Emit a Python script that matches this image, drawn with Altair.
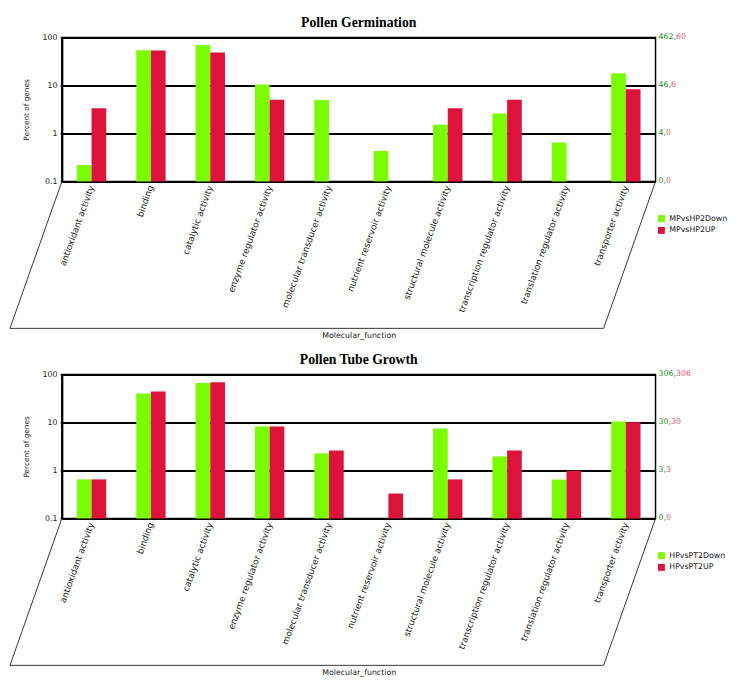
import altair as alt
import pandas as pd

categories = [
    "antioxidant activity", "binding", "catalytic activity",
    "enzyme regulator activity", "molecular transducer activity",
    "nutrient reservoir activity", "structural molecule activity",
    "transcription regulator activity", "translation regulator activity",
    "transporter activity",
]

# Pollen Germination (percent of genes)
pg_series = ["MPvsHP2Down", "MPvsHP2UP"]
pg_down = [0.22, 54.1, 69.9, 10.4, 4.98, 0.43, 1.52, 2.6, 0.65, 17.97]
pg_up = [3.33, 53.3, 48.3, 5.0, None, None, 3.33, 5.0, None, 8.33]
right_values = [100, 10, 1, 0.1]
pg_right_down = ["462,", "46,", "4,", "0,"]
pg_right_up = ["60", "6", "0", "0"]

# Pollen Tube Growth (percent of genes)
pt_series = ["HPvsPT2Down", "HPvsPT2UP"]
pt_down = [0.65, 39.9, 66.0, 8.17, 2.29, None, 7.5, 1.96, 0.65, 10.46]
pt_up = [0.65, 44.1, 68.95, 8.17, 2.61, 0.33, 0.65, 2.61, 0.98, 10.1]
pt_right_down = ["306,", "30,", "3,", "0,"]
pt_right_up = ["306", "30", "3", "0"]

W, H = 606, 147
D, SK = 150, 53
BW = 15
FONT = "DejaVu Sans"
GREEN, RED = "#7CFC00", "#DC143C"


def panel(title, series, down, up, rdown, rup):
    rows = []
    for c, d, u in zip(categories, down, up):
        if d is not None:
            rows.append({"category": c, "series": series[0], "value": d})
        if u is not None:
            rows.append({"category": c, "series": series[1], "value": u})
    df = pd.DataFrame(rows)
    yscale = alt.Scale(type="log", domain=[0.1, 100])
    yaxis = alt.Axis(
        values=[0.1, 1, 10, 100], format="~g", title="Percent of genes",
        grid=True, gridColor="black", gridWidth=2, gridOpacity=1,
        domainColor="black", domainWidth=2, tickColor="black", tickSize=2,
        labelFont=FONT, labelFontSize=8, labelColor="#222", labelPadding=3,
        titleFont=FONT, titleFontSize=7.5, titleFontWeight="normal",
        titleColor="#222", titlePadding=12,
    )
    xaxis = alt.Axis(
        title="Molecular_function", labelAngle=290, labelAlign="right",
        labelBaseline="middle", labelPadding=4, ticks=False, domain=False,
        labelFont=FONT, labelFontSize=9, labelColor="#222", labelLimit=300,
        titleFont=FONT, titleFontSize=8, titleFontWeight="normal",
        titleY=D + 3, titleBaseline="top", titleColor="#222",
    )
    xscale = alt.Scale(domain=categories, paddingInner=0, paddingOuter=0)
    cenc = alt.Color(
        "series:N", sort=series,
        scale=alt.Scale(domain=series, range=[GREEN, RED]),
        legend=alt.Legend(
            title=None, orient="none", legendX=W + 2, legendY=H + 34,
            symbolType="square", symbolSize=50, symbolStrokeWidth=0,
            labelFont=FONT, labelFontSize=8, labelColor="#222",
            rowPadding=4, padding=0,
        ),
    )

    def bar_layer(s, off, axis):
        return alt.Chart(df).transform_filter(
            alt.datum.series == s
        ).mark_bar(width=BW, xOffset=off).encode(
            x=alt.X("category:N", sort=categories, scale=xscale, axis=axis),
            y=alt.Y("value:Q", scale=yscale, axis=yaxis),
            y2=alt.datum(0.1),
            color=cenc,
        )

    bars_down = bar_layer(series[0], -BW / 2, xaxis)
    bars_up = bar_layer(series[1], BW / 2, None)

    rdf = pd.DataFrame({"v": right_values, "g": rdown, "r": rup})
    gtext = alt.Chart(rdf).mark_text(
        align="left", baseline="middle", font=FONT, fontSize=8, color="#1E8C1E"
    ).encode(
        x=alt.value(W + 3),
        y=alt.Y("v:Q", scale=yscale, axis=yaxis),
        text="g:N",
    )
    rtext = alt.Chart(rdf).transform_calculate(
        px=f"{W + 3} + (length(datum.g) - 1) * 5.1 + 2.6"
    ).mark_text(
        align="left", baseline="middle", font=FONT, fontSize=8, color="#E0506E"
    ).encode(
        x=alt.X("px:Q", scale=None, axis=None),
        y=alt.Y("v:Q", scale=yscale, axis=yaxis),
        text="r:N",
    )

    one = pd.DataFrame({"label": [title]})
    ttext = alt.Chart(one).mark_text(
        align="center", baseline="alphabetic", font="Liberation Serif",
        fontSize=14, fontWeight="bold", color="black",
    ).encode(x=alt.value(W / 2), y=alt.value(-11), text="label:N")

    def edge(x1, x2, y1, y2):
        return alt.Chart(one).mark_rule(color="#333", strokeWidth=1).encode(
            x=alt.value(x1), x2=alt.value(x2), y=alt.value(y1), y2=alt.value(y2)
        )

    frame = [
        edge(0, -SK, H, H + D),
        edge(-SK, W - SK, H + D, H + D),
        edge(W, W - SK, H, H + D),
    ]

    return alt.layer(bars_down, bars_up, gtext, rtext, ttext, *frame).resolve_scale(
        x="independent"
    ).properties(width=W, height=H)


p1 = panel("Pollen Germination", pg_series, pg_down, pg_up, pg_right_down, pg_right_up)
p2 = panel("Pollen Tube Growth", pt_series, pt_down, pt_up, pt_right_down, pt_right_up)

chart = alt.vconcat(p1, p2, spacing=12).resolve_scale(
    color="independent"
).properties(
    padding={"left": 0, "top": 0, "right": 0, "bottom": 0}
).configure_view(stroke="black", strokeWidth=1.5)

chart.save("out.html", embed_options={"renderer": "svg", "actions": False})
